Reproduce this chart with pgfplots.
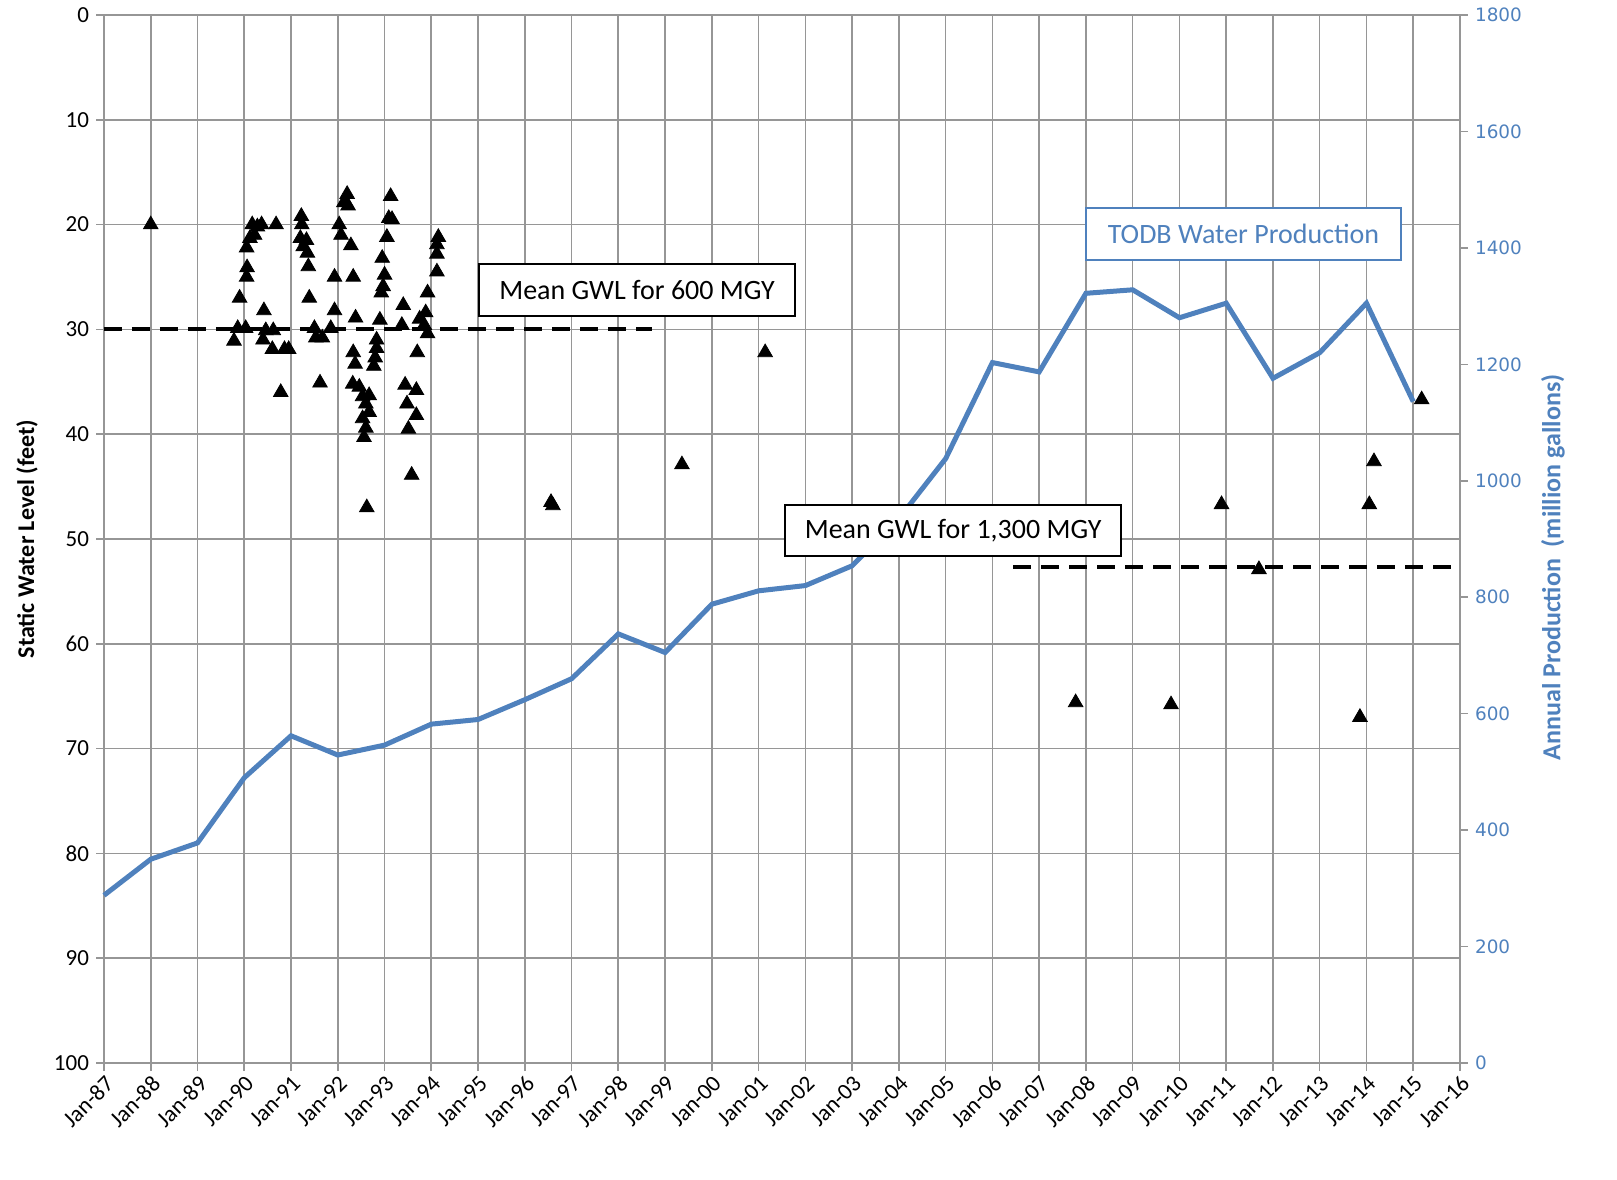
\documentclass[border=0pt]{standalone}
\usepackage{pgfplots}
\usepackage{pgfplotstable}
\pgfplotsset{compat=1.18}
\usepackage{fontspec}
\setmainfont{Carlito}
\newfontfamily\dejavu{DejaVu Sans}

\definecolor{gridmaj}{RGB}{150,150,150}
\definecolor{gridmin}{RGB}{198,198,198}
\definecolor{prodblue}{RGB}{79,129,189}

% annual production, million gallons (right axis)
\pgfplotstableread{
year prod
1987 288
1988 350
1989 378
1990 490
1991 562
1992 529
1993 546
1994 582
1995 590
1996 624
1997 660
1998 737
1999 705
2000 788
2001 811
2002 820
2003 854
2004 935
2005 1038
2006 1203
2007 1187
2008 1322
2009 1328
2010 1280
2011 1305
2012 1176
2013 1220
2014 1305
2015 1136
}\production

% static water level readings, feet (left axis)
\pgfplotstableread{
year gwl
1988.00 20.0
1989.78 31.1
1989.86 29.9
1989.90 27.0
1990.03 29.9
1990.05 25.0
1990.06 24.1
1990.05 22.2
1990.12 21.3
1990.17 20.0
1990.22 21.0
1990.28 20.2
1990.37 20.0
1990.68 20.0
1990.42 28.2
1990.40 31.0
1990.46 30.1
1990.62 30.1
1990.60 31.9
1990.78 36.0
1990.86 31.9
1990.95 31.9
1991.22 19.2
1991.23 20.0
1991.20 21.3
1991.26 22.1
1991.33 21.5
1991.35 22.7
1991.37 24.0
1991.39 27.0
1991.50 29.9
1991.53 30.8
1991.62 35.1
1991.67 30.8
1991.85 29.9
1991.93 25.0
1991.93 28.2
1992.03 20.0
1992.07 21.0
1992.13 17.9
1992.20 17.1
1992.22 18.2
1992.28 22.0
1992.33 25.0
1992.38 28.9
1992.33 32.2
1992.37 33.3
1992.32 35.2
1992.46 35.5
1992.53 36.4
1992.60 37.1
1992.67 36.3
1992.53 38.5
1992.60 39.4
1992.56 40.3
1992.67 37.9
1992.62 47.0
1992.77 33.5
1992.80 32.7
1992.83 31.8
1992.83 31.0
1992.90 29.1
1992.93 26.5
1992.97 25.9
1993.00 24.8
1992.95 23.2
1993.05 21.2
1993.09 19.4
1993.16 19.5
1993.13 17.3
1993.37 29.6
1993.40 27.7
1993.44 35.3
1993.48 37.1
1993.51 39.5
1993.58 43.9
1993.68 35.8
1993.68 38.2
1993.70 32.2
1993.75 29.0
1993.85 29.6
1993.88 28.4
1993.92 26.5
1993.92 30.4
1994.12 24.5
1994.12 22.8
1994.12 21.9
1994.15 21.2
1996.56 46.5
1996.60 46.8
1999.36 42.9
2001.14 32.2
2007.78 65.6
2009.82 65.8
2010.90 46.7
2011.70 52.9
2013.86 67.0
2014.06 46.7
2014.16 42.6
2015.18 36.7
}\gwl

\begin{document}
\begin{tikzpicture}
\useasboundingbox (-52pt,-58pt) rectangle (756.5pt,531.5pt);
\begin{axis}[
  scale only axis, width=678pt, height=524pt,
  xmin=1987, xmax=2016, ymin=0, ymax=100, y dir=reverse,
  xtick={1987,...,2016},
  xticklabels={Jan-87,Jan-88,Jan-89,Jan-90,Jan-91,Jan-92,Jan-93,Jan-94,Jan-95,Jan-96,
    Jan-97,Jan-98,Jan-99,Jan-00,Jan-01,Jan-02,Jan-03,Jan-04,Jan-05,Jan-06,Jan-07,
    Jan-08,Jan-09,Jan-10,Jan-11,Jan-12,Jan-13,Jan-14,Jan-15,Jan-16},
  minor x tick num=1,
  ytick={0,10,...,100},
  xmajorgrids, xminorgrids, ymajorgrids,
  major grid style={gridmaj, line width=0.8pt},
  minor grid style={gridmin, line width=0.8pt},
  axis line style={gridmaj, line width=1.2pt},
  tick style={gridmaj, line width=0.8pt},
  tick align=outside, major tick length=4pt, minor tick length=0pt,
  tick pos=left,
  ticklabel style={font=\fontsize{11.5}{13}\selectfont},
  xticklabel style={rotate=45, anchor=north east, inner sep=1pt},
  /pgf/number format/assume math mode=true,
  ylabel={Static Water Level (feet)},
  ylabel style={font=\bfseries\fontsize{12}{14}\selectfont,
    at={(axis description cs:-0.0568,0.5)}, anchor=center},
  clip=false,
]
\addplot[only marks, mark=triangle*, mark size=4.2pt, black] table {\gwl};
\addplot[black, line width=2pt, dash pattern=on 9pt off 5pt] coordinates {(1987,30) (1998.72,30)};
\addplot[black, line width=2pt, dash pattern=on 9pt off 5pt] coordinates {(2006.45,52.65) (2015.8,52.65)};
\end{axis}
\begin{axis}[
  scale only axis, width=678pt, height=524pt,
  xmin=1987, xmax=2016, ymin=0, ymax=1800,
  axis x line=none, axis y line*=right,
  ytick={0,200,...,1800},
  axis line style={gridmaj, line width=1pt},
  tick style={gridmaj, line width=0.8pt},
  tick align=outside, major tick length=4pt,
  /pgf/number format/assume math mode=true,
  /pgf/number format/1000 sep={},
  yticklabel style={font=\dejavu\fontsize{9.2}{11}\selectfont, text=prodblue},
  ylabel={Annual Production~~(million gallons)},
  ylabel style={font=\bfseries\fontsize{13}{15}\selectfont, text=prodblue,
    at={(axis description cs:1.0686,0.4728)}, anchor=center},
  clip=false,
]
\addplot[prodblue, line width=2.5pt] table {\production};
\node[draw=black, line width=1pt, fill=white, minimum width=158pt, minimum height=26pt,
  inner sep=0pt, font=\fontsize{14}{16}\selectfont] at (axis cs:1998.40,1327.7) {Mean GWL for 600 MGY};
\node[draw=black, line width=1pt, fill=white, minimum width=168pt, minimum height=25.5pt,
  inner sep=0pt, font=\fontsize{14}{16}\selectfont] at (axis cs:2005.16,914.6) {Mean GWL for 1,300 MGY};
\node[draw=prodblue, line width=0.6pt, fill=white, minimum width=157.5pt, minimum height=26pt,
  inner sep=0pt, text=prodblue, font=\fontsize{14}{16}\selectfont] at (axis cs:2011.37,1424) {TODB Water Production};
\end{axis}
\end{tikzpicture}
\end{document}
